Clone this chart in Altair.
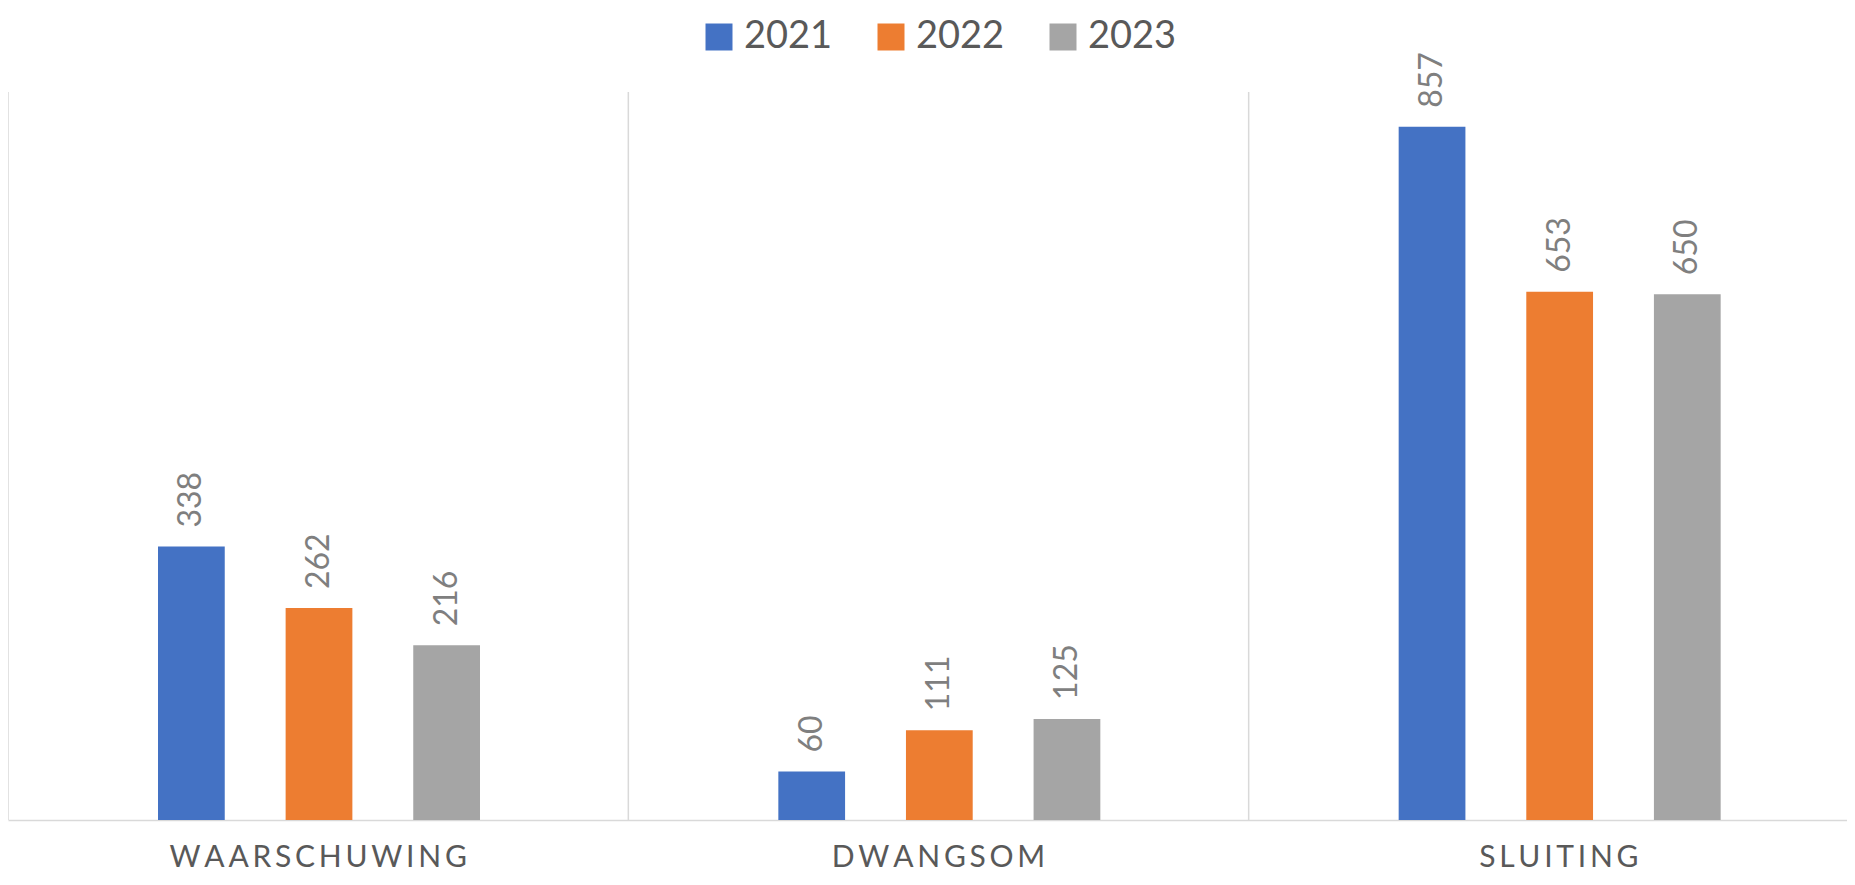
import altair as alt
import pandas as pd

categories = ["WAARSCHUWING", "DWANGSOM", "SLUITING"]
years = ["2021", "2022", "2023"]
v2021 = [338, 60, 857]
v2022 = [262, 111, 653]
v2023 = [216, 125, 650]
colors = ["#4472C4", "#ED7D31", "#A5A5A5"]

rows = []
for yr, vals in zip(years, [v2021, v2022, v2023]):
    for c, v in zip(categories, vals):
        rows.append({"cat": c, "year": yr, "value": v})
df = pd.DataFrame(rows)
div_df = pd.DataFrame({"cat": categories})

FONT = "Lato"
xscale = alt.Scale(domain=categories, range=[0, 1861], paddingInner=0, paddingOuter=0)

x_axis = alt.Axis(
    title=None,
    labelAngle=0,
    grid=False,
    ticks=False,
    domainColor="#D9D9D9",
    domainWidth=1.5,
    labelFont=FONT,
    labelFontSize=30,
    labelColor="#595959",
    labelBaseline="alphabetic",
    labelPadding=46,
    labelLimit=0,
    labelExpr="join(split(datum.label, ''), '\u200a\u200a')",
)
x_enc = alt.X("cat:N", scale=xscale, sort=categories, axis=x_axis)
xoff = alt.XOffset(
    "year:N", sort=years,
    scale=alt.Scale(range=[150, 472], paddingInner=0.477, paddingOuter=0),
)
y_enc = alt.Y("value:Q", scale=alt.Scale(domain=[0, 900], nice=False, zero=True), axis=None)

dividers = alt.Chart(div_df).mark_rule(color="#D9D9D9", strokeWidth=1.5).encode(
    x=alt.X("cat:N", scale=xscale, sort=categories, bandPosition=0, axis=x_axis)
)

bars = alt.Chart(df).mark_bar().encode(
    x=x_enc,
    xOffset=xoff,
    y=y_enc,
    color=alt.Color(
        "year:N",
        sort=years,
        scale=alt.Scale(domain=years, range=colors),
        legend=alt.Legend(
            orient="none",
            legendX=692,
            legendY=-74,
            direction="horizontal",
            title=None,
            symbolType="square",
            symbolSize=729,
            symbolStrokeWidth=0,
            symbolOpacity=1,
            labelFontSize=38,
            labelFont=FONT,
            labelColor="#595959",
            labelOffset=6,
            columnPadding=39,
            padding=0,
        ),
    ),
)

labels = alt.Chart(df).mark_text(
    angle=270, align="left", baseline="middle", dx=19, fontSize=32, color="#7F7F7F", font=FONT
).encode(
    x=alt.X("cat:N", scale=xscale, sort=categories, axis=x_axis),
    xOffset=xoff,
    y=y_enc,
    text=alt.Text("value:Q"),
)

chart = (
    alt.layer(dividers, bars, labels)
    .properties(
        width=1839,
        height=728,
        autosize=alt.AutoSizeParams(type="none"),
        padding={"left": 0, "top": 84, "right": 0, "bottom": 53},
    )
    .configure_view(stroke=None)
)

chart.save("out.html", embed_options={"renderer": "svg", "actions": False})
